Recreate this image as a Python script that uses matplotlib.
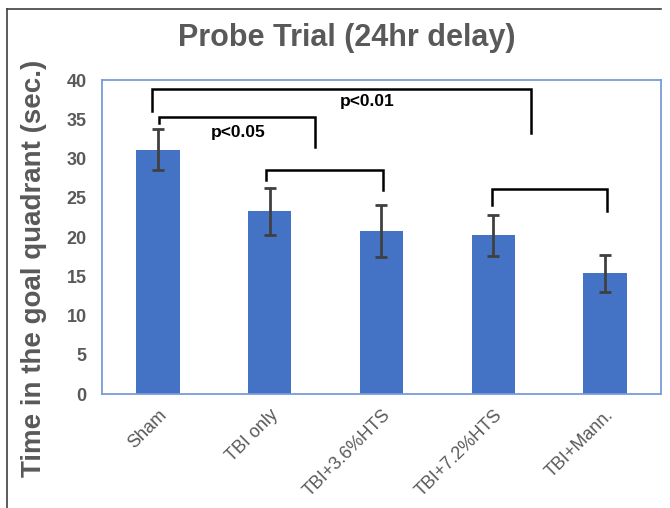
import matplotlib.pyplot as plt
from matplotlib.lines import Line2D
import numpy as np

groups = ['Sham', 'TBI only', 'TBI+3.6%HTS', 'TBI+7.2%HTS', 'TBI+Mann.']
means = [31.1, 23.3, 20.8, 20.2, 15.4]
errors = [2.6, 3.0, 3.3, 2.6, 2.35]
yticks = [0, 5, 10, 15, 20, 25, 30, 35, 40]

# brackets: (x left, x right, top, left leg end, right leg end, label, label x, label y)
brackets = [
    (-0.055, 3.337, 38.9, 36.1, 33.3, 'p<0.01', 1.87, 37.3),
    (0.012, 1.405, 35.3, 34.5, 31.5, 'p<0.05', 0.72, 33.3),
    (0.967, 2.016, 28.5, 27.3, 26.0, '', 0, 0),
    (2.986, 4.017, 26.1, 24.1, 23.3, '', 0, 0),
]

plt.rcParams['font.family'] = ['Liberation Sans', 'DejaVu Sans']
gray = '#595959'

fig = plt.figure(figsize=(6.7, 5.08), dpi=100)
ax = fig.add_axes([0.1522, 0.2244, 0.8344, 0.6181])

x = np.arange(len(groups))
ax.bar(x, means, width=0.39, color='#4472C4', zorder=2)
ax.errorbar(x, means, yerr=errors, fmt='none', ecolor='#404040',
            elinewidth=2, capsize=4, capthick=2, zorder=3)

for xl, xr, top, yl, yr, label, tx, ty in brackets:
    ax.plot([xl, xl, xr, xr], [yl, top, top, yr], color='black', lw=1.8,
            solid_joinstyle='miter', zorder=4)
    if label:
        ax.text(tx, ty, label, ha='center', va='center', fontsize=12.5,
                fontweight='bold', color='black')

ax.set_xlim(-0.5, 4.5)
ax.set_ylim(0, 40)
ax.set_yticks(yticks)
ax.set_xticks(x)
ax.set_xticklabels(groups, rotation=45, ha='right', rotation_mode='anchor',
                   fontsize=13, color=gray)
for lab in ax.get_yticklabels():
    lab.set_fontweight('bold')
    lab.set_fontsize(13)
    lab.set_color(gray)
ax.tick_params(axis='both', length=0)
ax.tick_params(axis='y', pad=11)
ax.tick_params(axis='x', pad=9)
for s in ax.spines.values():
    s.set_color('#7A9CD9')
    s.set_linewidth(1.3)

fig.text(0.518, 0.925, 'Probe Trial (24hr delay)', ha='center', va='center',
         fontsize=22, fontweight='bold', color=gray)
fig.text(0.051, 0.472, 'Time in the goal quadrant (sec.)', ha='center',
         va='center', rotation=90, fontsize=20, fontweight='bold', color=gray)

# outer frame lines (left and top)
fig.add_artist(Line2D([7 / 670, 7 / 670], [0, 1 - 9 / 508], color='#404040', lw=1.2))
fig.add_artist(Line2D([7 / 670, 661 / 670], [1 - 9 / 508, 1 - 9 / 508], color='#404040', lw=1.2))

fig.savefig('out.png', dpi=100)
